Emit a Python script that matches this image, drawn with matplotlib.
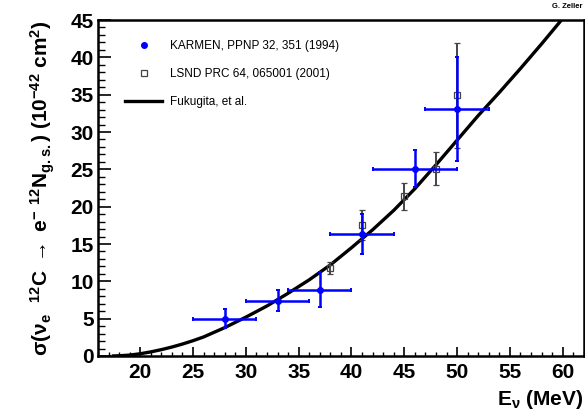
import matplotlib
matplotlib.use("Agg")
import matplotlib.pyplot as plt
from matplotlib.ticker import MultipleLocator
from matplotlib.lines import Line2D

plt.rcParams["font.family"] = ["Liberation Sans", "DejaVu Sans"]
plt.rcParams["mathtext.fontset"] = "custom"
plt.rcParams["mathtext.rm"] = "Liberation Sans"
plt.rcParams["mathtext.bf"] = "Liberation Sans:bold"
plt.rcParams["mathtext.it"] = "Liberation Sans:italic"
plt.rcParams["mathtext.sf"] = "Liberation Sans"

# KARMEN measurement (energy bins)
karmen_e = [28, 33, 37, 41, 46, 50]
karmen_ewidth = [3, 3, 3, 3, 4, 3]
karmen_sigma = [5.0, 7.4, 8.9, 16.3, 25.1, 33.1]
karmen_err = [1.3, 1.4, 2.3, 2.7, 2.5, 7.0]

# LSND measurement
lsnd_e = [38, 41, 45, 48, 50]
lsnd_sigma = [11.8, 17.6, 21.4, 25.1, 34.9]
lsnd_err = [0.8, 2.0, 1.8, 2.2, 7.0]

# Fukugita et al. calculation
theory_e = [17.3, 18, 19, 20, 21, 22, 23, 24, 25, 26, 28, 30, 32, 34, 36, 38,
            40, 42, 44, 46, 48, 50, 52, 54, 56, 58, 60, 61]
theory_sigma = [0.0, 0.03, 0.12, 0.3, 0.55, 0.85, 1.2, 1.6, 2.05, 2.55, 3.8,
                5.2, 6.7, 8.4, 10.2, 12.2, 14.5, 16.9, 19.5, 22.4, 25.6, 28.9,
                32.2, 35.3, 38.5, 41.8, 45.2, 47.0]

fig = plt.figure(figsize=(5.85, 4.17), dpi=100)
ax = fig.add_axes([0.1675, 0.1463, 0.8305, 0.8057])

ax.plot(theory_e, theory_sigma, color="black", lw=2.4, zorder=2,
        solid_capstyle="butt")

ax.errorbar(lsnd_e, lsnd_sigma, yerr=lsnd_err, fmt="s", ms=5,
            mfc="none", mec="#444444", mew=0.9, ecolor="#444444",
            elinewidth=1.4, capsize=2, capthick=1.2, zorder=3)

ax.errorbar(karmen_e, karmen_sigma, xerr=karmen_ewidth, yerr=karmen_err,
            fmt="o", ms=4, color="#0000ff", mec="#0000ff",
            elinewidth=1.8, capsize=1.2, capthick=1.4, zorder=4)

ax.set_xlim(16, 62)
ax.set_ylim(0, 45)

for side in ax.spines.values():
    side.set_linewidth(1.8)

ax.xaxis.set_major_locator(MultipleLocator(5))
ax.xaxis.set_minor_locator(MultipleLocator(1))
ax.yaxis.set_major_locator(MultipleLocator(5))
ax.yaxis.set_minor_locator(MultipleLocator(1))
ax.tick_params(axis="x", which="major", direction="in", length=6.5,
               width=1.2, pad=5, labelsize=15)
ax.tick_params(axis="x", which="minor", direction="in", length=3.2, width=1.0)
ax.tick_params(axis="y", which="major", direction="in", length=9.5,
               width=1.2, pad=3, labelsize=15)
ax.tick_params(axis="y", which="minor", direction="in", length=4.7, width=1.0)
for lab in ax.get_xticklabels() + ax.get_yticklabels():
    lab.set_fontweight("bold")

ax.set_ylabel(r"$\mathbf{\sigma(\nu_e\ \ {}^{12}C\ \rightarrow\ e^{-}\ {}^{12}N_{g.s.})\ (10^{-42}\ cm^{2})}$",
              fontsize=15)
ax.yaxis.set_label_coords(-0.085, 0.5)
ax.set_xlabel(r"$\mathbf{E_{\nu}\ (MeV)}$", fontsize=15)
ax.xaxis.set_label_coords(1.0, -0.095)
ax.xaxis.label.set_horizontalalignment("right")

handles = [
    Line2D([], [], ls="none", marker="o", ms=4, color="#0000ff"),
    Line2D([], [], ls="none", marker="s", ms=5, mfc="none", mec="#444444",
           mew=0.9),
    Line2D([], [], color="black", lw=2.4),
]
labels = ["KARMEN, PPNP 32, 351 (1994)", "LSND PRC 64, 065001 (2001)",
          "Fukugita, et al."]
ax.legend(handles, labels, loc="upper left", bbox_to_anchor=(0.055, 0.94),
          frameon=False, fontsize=8.5, handlelength=3.2, handletextpad=0.6,
          labelspacing=1.35, borderpad=0, borderaxespad=0)

fig.text(0.995, 0.992, "G. Zeller", ha="right", va="top", fontsize=5.5,
         fontweight="bold")

fig.savefig("out.png", dpi=100)
